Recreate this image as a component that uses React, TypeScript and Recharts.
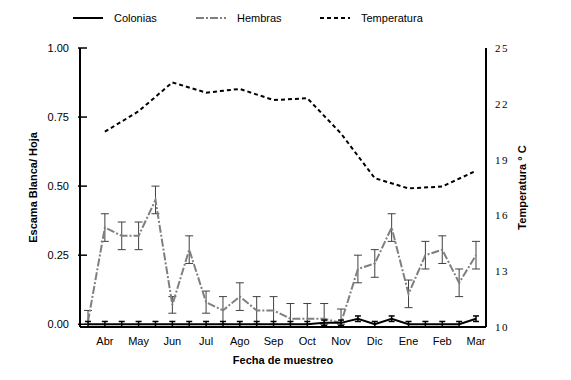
import * as React from "react";
import { LineChart, Line, XAxis, YAxis, ErrorBar, Label } from "recharts";

// 24 half-month sampling dates, month name shown on every second one
const tickLabels = [
  "", "Abr", "", "May", "", "Jun", "", "Jul", "", "Ago", "", "Sep",
  "", "Oct", "", "Nov", "", "Dic", "", "Ene", "", "Feb", "", "Mar",
];

const colonias = [
  0, 0, 0, 0, 0, 0, 0, 0, 0, 0, 0, 0,
  0, 0, 0.005, 0.005, 0.02, 0, 0.02, 0, 0, 0, 0, 0.02,
];
const coloniasErr = [
  0.01, 0.01, 0.01, 0.01, 0.01, 0.01, 0.01, 0.01, 0.01, 0.01, 0.01, 0.01,
  0.01, 0.01, 0.01, 0.01, 0.01, 0.01, 0.01, 0.01, 0.01, 0.01, 0.01, 0.01,
];

const hembras = [
  0.01, 0.35, 0.32, 0.32, 0.45, 0.07, 0.27, 0.08, 0.05, 0.1, 0.05, 0.05,
  0.02, 0.02, 0.02, 0.005, 0.2, 0.22, 0.35, 0.11, 0.25, 0.27, 0.15, 0.25,
];
const hembrasErr = [
  0.04, 0.05, 0.05, 0.05, 0.05, 0.03, 0.05, 0.04, 0.05, 0.05, 0.05, 0.05,
  0.055, 0.055, 0.055, 0.05, 0.05, 0.05, 0.05, 0.05, 0.05, 0.05, 0.05, 0.05,
];

// monthly temperature (only on the labelled dates)
const temperatura = [
  null, 20.5, null, 21.6, null, 23.15, null, 22.6, null, 22.8, null, 22.2,
  null, 22.3, null, 20.4, null, 18.0, null, 17.45, null, 17.55, null, 18.4,
];

const data = tickLabels.map((_, i) => ({
  i,
  colonias: colonias[i],
  coloniasErr: [coloniasErr[i], coloniasErr[i]],
  hembras: hembras[i],
  hembrasErr: [Math.min(hembrasErr[i], hembras[i]), hembrasErr[i]],
  temperatura: temperatura[i],
}));

const sans = "'Liberation Sans', Arial, sans-serif";
const serif = "'Liberation Serif', 'Times New Roman', serif";

const LeftTick = (props: any) => {
  const { x, y, payload } = props;
  return (
    <g>
      <line x1={x - 2} x2={x + 7} y1={y} y2={y} stroke="#000" strokeWidth={1.5} />
      <text x={x - 11} y={y} dy={4} textAnchor="end" fontSize={11} fontFamily={sans} fill="#000">
        {Number(payload.value).toFixed(2)}
      </text>
    </g>
  );
};

function LegendItem({ left, label, dash, color }: { left: number; label: string; dash?: string; color: string }) {
  return (
    <div style={{ position: "absolute", left, top: 3, display: "flex", alignItems: "center" }}>
      <svg width={30} height={14}>
        <line x1={0} x2={30} y1={7} y2={7} stroke={color} strokeWidth={2} strokeDasharray={dash} />
      </svg>
      <span style={{ marginLeft: 11, fontFamily: sans, fontSize: 11, color: "#000" }}>{label}</span>
    </div>
  );
}

export default function App() {
  return (
    <div style={{ position: "relative", width: 563, height: 372 }}>
      <LegendItem left={65} label="Colonias" color="#000" />
      <LegendItem left={188} label="Hembras" color="#7f7f7f" dash="8 2 2 2" />
      <LegendItem left={312} label="Temperatura" color="#000" dash="4 3" />
      <LineChart
        width={563}
        height={372}
        data={data}
        margin={{ top: 40, right: 40, bottom: 13, left: 32 }}
      >
        <XAxis
          dataKey="i"
          type="category"
          interval={0}
          tickFormatter={(v: number) => tickLabels[v]}
          padding={{ left: 8, right: 10 }}
          height={40}
          tickLine={false}
          tickSize={0}
          tickMargin={10}
          axisLine={{ stroke: "#000", strokeWidth: 2 }}
          tick={{ fontSize: 11, fontFamily: sans, fill: "#000" }}
        >
          <Label
            value="Fecha de muestreo"
            position="insideBottom"
            offset={3}
            style={{ fontSize: 11, fontWeight: "bold", fontFamily: sans, fill: "#000" }}
          />
        </XAxis>
        <YAxis
          yAxisId="left"
          domain={[0, 1]}
          ticks={[0, 0.25, 0.5, 0.75, 1]}
          width={40}
          tickLine={false}
          tickSize={0}
          tickMargin={0}
          tick={<LeftTick />}
          axisLine={{ stroke: "#000", strokeWidth: 2 }}
        >
          <Label
            value="Escama Blanca/ Hoja"
            angle={-90}
            position="insideLeft"
            offset={-7}
            style={{ textAnchor: "middle", fontSize: 11, fontWeight: "bold", fontFamily: sans, fill: "#000" }}
          />
        </YAxis>
        <YAxis
          yAxisId="right"
          orientation="right"
          domain={[10, 25]}
          ticks={[10, 13, 16, 19, 22, 25]}
          width={45}
          tickLine={false}
          tickSize={0}
          tickMargin={9}
          axisLine={{ stroke: "#000", strokeWidth: 2 }}
          tick={{ fontSize: 11, fontFamily: serif, fill: "#000", letterSpacing: 1.5 }}
        >
          <Label
            value="Temperatura ° C"
            angle={-90}
            position="insideRight"
            offset={9}
            style={{ textAnchor: "middle", fontSize: 11, fontWeight: "bold", fontFamily: sans, fill: "#000" }}
          />
        </YAxis>
        <Line
          yAxisId="right"
          dataKey="temperatura"
          stroke="#000"
          strokeWidth={2}
          strokeDasharray="4 3"
          dot={false}
          connectNulls
          isAnimationActive={false}
        />
        <Line
          yAxisId="left"
          dataKey="hembras"
          stroke="#7f7f7f"
          strokeWidth={2}
          strokeDasharray="8 2 2 2"
          dot={false}
          isAnimationActive={false}
        >
          <ErrorBar dataKey="hembrasErr" width={4} stroke="#404040" strokeWidth={1} />
        </Line>
        <Line
          yAxisId="left"
          dataKey="colonias"
          stroke="#000"
          strokeWidth={2}
          dot={false}
          isAnimationActive={false}
        >
          <ErrorBar dataKey="coloniasErr" width={3} stroke="#000" strokeWidth={1.5} />
        </Line>
      </LineChart>
    </div>
  );
}
